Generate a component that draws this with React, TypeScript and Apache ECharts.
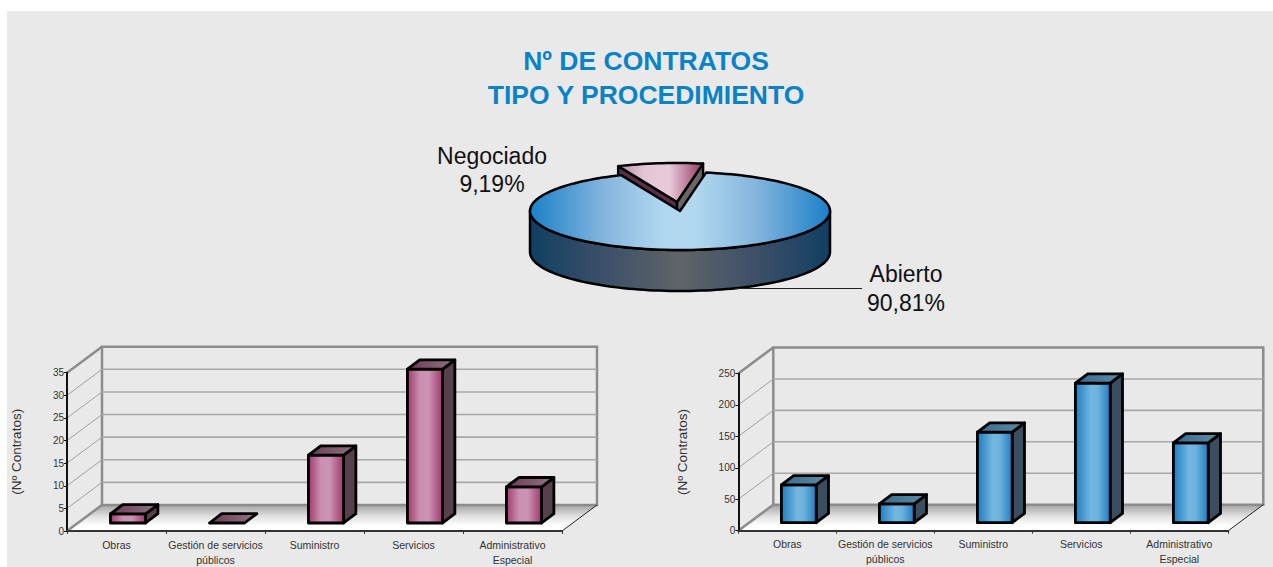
import React, { useEffect, useRef } from "react";
import * as echarts from "echarts";

const titleText = "Nº DE CONTRATOS\nTIPO Y PROCEDIMIENTO";
const categories = ["Obras", "Gestión de servicios\npúblicos", "Suministro", "Servicios", "Administrativo\nEspecial"];
const negociadoValues = [2, 0, 15, 34, 8];
const abiertoValues = [60, 30, 144, 222, 127];
const negociadoTicks = [5, 10, 15, 20, 25, 30, 35];
const abiertoTicks = [50, 100, 150, 200, 250];
const pieNames = ["Negociado", "Abierto"];
const pieValues = [9.19, 90.81];
const axisName = "(Nº Contratos)";

const FONT = '"Liberation Sans", Arial, sans-serif';
const hGrad = (stops: [number, string][]) =>
  new echarts.graphic.LinearGradient(0, 0, 1, 0, stops.map(([offset, color]) => ({ offset, color })));
const vGrad = (stops: [number, string][]) =>
  new echarts.graphic.LinearGradient(0, 0, 0, 1, stops.map(([offset, color]) => ({ offset, color })));

const DEPTH_X = 35;
const DEPTH_Y = 26;

const roomSeries = (idx: number) => ({
  type: "custom",
  xAxisIndex: idx,
  yAxisIndex: idx,
  z: 2,
  silent: true,
  data: [[0, 0]],
  renderItem: (params: any) => {
    const { x, y, width: w, height: h } = params.coordSys;
    const b = y + h;
    const r = x + w;
    const wall = { stroke: "#8c8c8c", lineWidth: 2.5, fill: "none" };
    return {
      type: "group",
      children: [
        {
          type: "polygon",
          shape: { points: [[x, b], [r, b], [r + DEPTH_X, b - DEPTH_Y], [x + DEPTH_X, b - DEPTH_Y]] },
          style: { fill: vGrad([[0, "#a3a3a3"], [0.45, "#e2e2e2"], [0.8, "#ffffff"], [1, "#ffffff"]]) },
        },
        { type: "rect", shape: { x: x + DEPTH_X, y: y - DEPTH_Y, width: w, height: h }, style: wall },
        { type: "line", shape: { x1: x, y1: y, x2: x + DEPTH_X, y2: y - DEPTH_Y }, style: wall },
        { type: "line", shape: { x1: x, y1: b, x2: x + DEPTH_X, y2: b - DEPTH_Y }, style: wall },
        { type: "line", shape: { x1: r, y1: b, x2: r + DEPTH_X, y2: b - DEPTH_Y }, style: { stroke: "#222", lineWidth: 1 } },
      ],
    };
  },
});

const tickSeries = (idx: number, ticks: number[]) => ({
  type: "custom",
  xAxisIndex: idx,
  yAxisIndex: idx,
  z: 3,
  silent: true,
  data: ticks.map((t) => [0, t]),
  renderItem: (params: any, api: any) => {
    const { x, width: w } = params.coordSys;
    const y = api.coord([0, api.value(1)])[1];
    const top = api.value(1) === ticks[ticks.length - 1];
    if (top) return { type: "group", children: [] };
    return {
      type: "group",
      children: [
        { type: "line", shape: { x1: x, y1: y, x2: x + DEPTH_X, y2: y - DEPTH_Y }, style: { stroke: "#a0a0a0", lineWidth: 1 } },
        { type: "line", shape: { x1: x + DEPTH_X, y1: y - DEPTH_Y, x2: x + w + DEPTH_X, y2: y - DEPTH_Y }, style: { stroke: "#a8a8a8", lineWidth: 1.6 } },
      ],
    };
  },
});

const barSeries = (idx: number, values: number[], pal: any) => ({
  type: "custom",
  xAxisIndex: idx,
  yAxisIndex: idx,
  z: 6,
  silent: true,
  data: values.map((v, i) => [i, v]),
  renderItem: (_p: any, api: any) => {
    const v = api.value(1);
    const base = api.coord([api.value(0), 0]);
    const topPt = api.coord([api.value(0), v]);
    const bw = api.size([1, 0])[0] * 0.355;
    const l = base[0] + 11.5 - bw / 2;
    const r = l + bw;
    const b = base[1] - 8;
    const t = topPt[1] - 8;
    const dx = 12.3;
    const dy = 9.3;
    const line = { stroke: "#000", lineWidth: 2.8, lineJoin: "round" };
    const children: any[] = [];
    if (v > 0) {
      children.push({
        type: "polygon",
        shape: { points: [[r, t], [r + dx, t - dy], [r + dx, b - dy], [r, b]] },
        style: { fill: pal.side, ...line },
      });
      children.push({
        type: "rect",
        shape: { x: l, y: t, width: bw, height: b - t },
        style: { fill: hGrad(pal.front), ...line },
      });
    }
    children.push({
      type: "polygon",
      shape: { points: [[l, t], [l + dx, t - dy], [r + dx, t - dy], [r, t]] },
      style: { fill: hGrad(pal.top), ...line },
    });
    return { type: "group", children };
  },
});

const pinkPal = {
  side: "#57404c",
  front: [[0, "#9e3a6a"], [0.35, "#c98fb0"], [0.6, "#cc94b4"], [1, "#9e3a6a"]],
  top: [[0, "#6f3a56"], [1, "#8e7482"]],
};
const bluePal = {
  side: "#3a4e5f",
  front: [[0, "#1f7cc2"], [0.45, "#72b8e0"], [0.65, "#6cb2dc"], [1, "#1f7cc2"]],
  top: [[0, "#356a90"], [1, "#5f8ca4"]],
};

const pct = (v: number) => v.toFixed(2).replace(".", ",") + "%";

const pieSeries = () => {
  const total = pieValues.reduce((a, b) => a + b, 0);
  const cx = 680;
  const cy = 211;
  const rx = 150;
  const ry = 39;
  const depth = 41;
  const startDeg = 80;
  const pt = (deg: number, ox = 0, oy = 0): number[] => {
    const t = (deg * Math.PI) / 180;
    return [cx + rx * Math.cos(t) + ox, cy - ry * Math.sin(t) + oy];
  };
  const arc = (a: number, b: number, ox = 0, oy = 0) => {
    const n = Math.max(4, Math.ceil(Math.abs(b - a) / 2));
    const out: number[][] = [];
    for (let i = 0; i <= n; i++) out.push(pt(a + ((b - a) * i) / n, ox, oy));
    return out;
  };
  const line = { stroke: "#000", lineWidth: 2.5, lineJoin: "round" };
  return {
    type: "custom",
    coordinateSystem: "none",
    z: 8,
    silent: true,
    data: pieNames.map((n, i) => ({ name: n, value: pieValues[i] })),
    renderItem: (params: any) => {
      const i = params.dataIndex;
      const sweep = (pieValues[0] / total) * 360;
      const end = startDeg + sweep;
      if (i === 0) {
        const ox = -3;
        const oy = -9;
        const apex = [cx + ox, cy + oy];
        const a = pt(end, ox, oy);
        const b = pt(startDeg, ox, oy);
        return {
          type: "group",
          children: [
            {
              type: "polygon",
              shape: { points: [apex, a, [a[0], a[1] + depth], [apex[0], apex[1] + depth]] },
              style: { fill: "#5a2f47", ...line },
            },
            {
              type: "polygon",
              shape: { points: [apex, b, [b[0], b[1] + depth], [apex[0], apex[1] + depth]] },
              style: { fill: "#6d6468", ...line },
            },
            {
              type: "polygon",
              shape: { points: [apex, ...arc(startDeg, end, ox, oy)] },
              style: {
                fill: hGrad([[0, "#b98ba6"], [0.3, "#e3c5d6"], [0.6, "#e8cbdb"], [0.85, "#b5708f"], [1, "#96365f"]]),
                ...line,
              },
            },
            {
              type: "text",
              style: {
                text: pieNames[0] + "\n" + pct(pieValues[0]),
                x: 492,
                y: 170,
                align: "center",
                verticalAlign: "middle",
                font: `23px ${FONT}`,
                lineHeight: 28,
                fill: "#111",
              },
            },
          ],
        };
      }
      return {
        type: "group",
        children: [
          {
            type: "polygon",
            shape: { points: [...arc(180, 360), ...arc(360, 180, 0, depth)] },
            style: {
              fill: hGrad([[0, "#103f62"], [0.25, "#3d5068"], [0.5, "#5f6468"], [0.75, "#3d5068"], [1, "#103f62"]]),
              ...line,
            },
          },
          {
            type: "polygon",
            shape: { points: [[cx, cy], ...arc(end, startDeg + 360)] },
            style: {
              fill: hGrad([[0, "#1b80c8"], [0.25, "#85b6de"], [0.45, "#b2d8f0"], [0.55, "#b2d8f0"], [0.75, "#85b6de"], [1, "#1b80c8"]]),
              ...line,
            },
          },
          {
            type: "line",
            shape: { x1: 735, y1: 288.5, x2: 862, y2: 288.5 },
            style: { stroke: "#222", lineWidth: 1 },
          },
          {
            type: "text",
            style: {
              text: pieNames[1] + "\n" + pct(pieValues[1]),
              x: 906,
              y: 288,
              align: "center",
              verticalAlign: "middle",
              font: `23px ${FONT}`,
              lineHeight: 29,
              fill: "#111",
            },
          },
        ],
      };
    },
  };
};

const xAxis = (idx: number) => ({
  type: "category",
  gridIndex: idx,
  data: categories,
  z: 5,
  axisLine: { show: true, lineStyle: { color: "#333", width: 2 } },
  axisTick: { show: true, alignWithLabel: false, length: 3, lineStyle: { color: "#333", width: 1 } },
  axisLabel: { interval: 0, hideOverlap: false, fontFamily: FONT, fontSize: 10.5, color: "#333", lineHeight: 15, margin: 6 },
});
const yAxis = (idx: number, max: number, interval: number, gap: number) => ({
  type: "value",
  gridIndex: idx,
  min: 0,
  max,
  interval,
  z: 5,
  name: axisName,
  nameLocation: "middle",
  nameGap: gap,
  nameTextStyle: { fontFamily: FONT, fontSize: 13.5, color: "#333" },
  splitLine: { show: false },
  axisLine: { show: true, lineStyle: { color: "#111", width: 2 } },
  axisTick: { show: true, length: 3, lineStyle: { color: "#111", width: 1 } },
  axisLabel: { fontFamily: FONT, fontSize: 10, color: "#333", margin: 3 },
});

export default function App() {
  const ref = useRef<HTMLDivElement>(null);
  useEffect(() => {
    const chart = echarts.init(ref.current!, null, { renderer: "svg" });
    chart.setOption({
      animation: false,
      backgroundColor: "#ffffff",
      title: {
        text: titleText,
        left: 641,
        top: 39,
        textAlign: "center",
        textStyle: { fontFamily: FONT, fontSize: 26.5, fontWeight: "bold", color: "#0a82c6", lineHeight: 34 },
      },
      graphic: [
        {
          type: "rect",
          z: -10,
          silent: true,
          shape: { x: 7, y: 11, width: 1266, height: 556 },
          style: { fill: "#e9e9e9" },
        },
      ],
      grid: [
        { left: 67, top: 372.7, width: 495, height: 159, containLabel: false },
        { left: 738.3, top: 373.5, width: 490, height: 157.2, containLabel: false },
      ],
      xAxis: [xAxis(0), xAxis(1)],
      yAxis: [yAxis(0, 35, 5, 44), yAxis(1, 250, 50, 49)],
      series: [
        roomSeries(0),
        tickSeries(0, negociadoTicks),
        barSeries(0, negociadoValues, pinkPal),
        roomSeries(1),
        tickSeries(1, abiertoTicks),
        barSeries(1, abiertoValues, bluePal),
        pieSeries(),
      ],
    });
    return () => chart.dispose();
  }, []);
  return <div ref={ref} style={{ position: "fixed", left: 0, top: 0, width: 1273, height: 567 }} />;
}
